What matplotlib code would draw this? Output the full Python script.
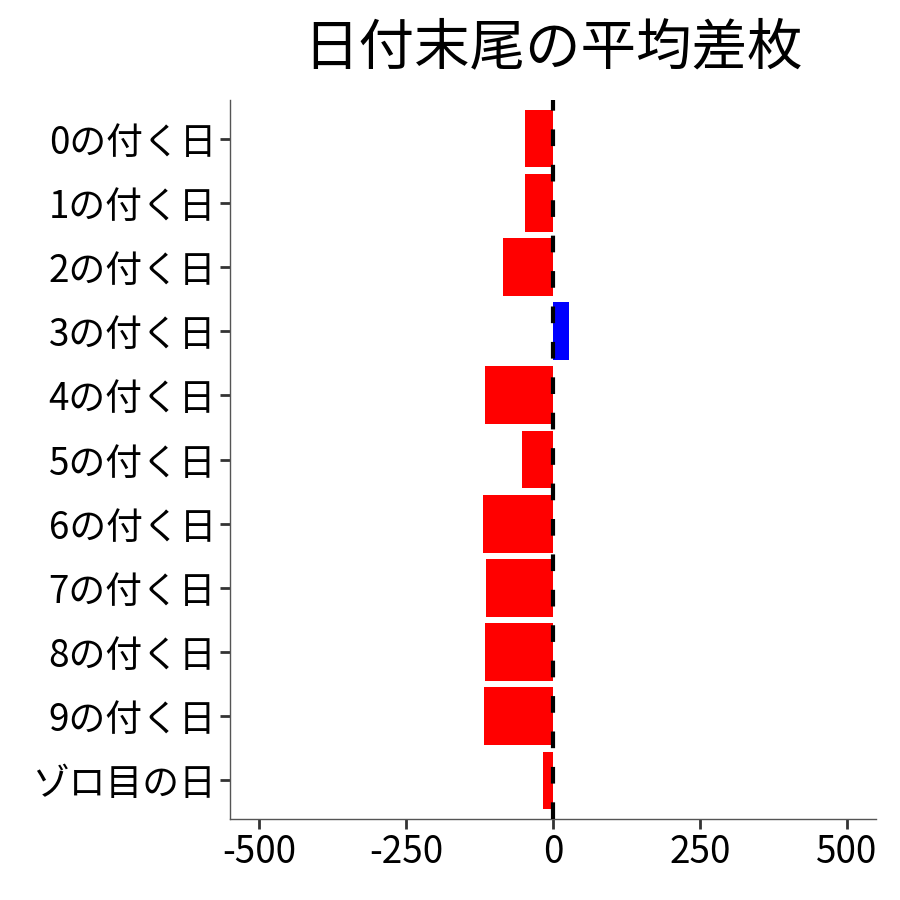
import matplotlib

matplotlib.use("Agg")
import matplotlib.pyplot as plt  # noqa: E402

plt.rcParams["font.family"] = ["Noto Sans CJK JP", "DejaVu Sans"]

# 日付末尾ごとの平均差枚（上から順に表示）
labels = ["0の付く日", "1の付く日", "2の付く日", "3の付く日", "4の付く日",
          "5の付く日", "6の付く日", "7の付く日", "8の付く日", "9の付く日", "ゾロ目の日"]
values = [-48, -48, -85, 28, -116, -52, -119, -114, -116, -117, -17]
xticks = [-500, -250, 0, 250, 500]

colors = ["#0000FF" if v > 0 else "#FF0000" for v in values]
pos = list(range(len(labels)))[::-1]

fig = plt.figure(figsize=(9, 9), dpi=100)
ax = fig.add_axes([230 / 900, 1 - 819 / 900, (876 - 230) / 900, (819 - 100) / 900])

ax.barh(pos, values, height=0.9, color=colors, zorder=2)
ax.axvline(0, color="black", lw=3.0, ls=(0, (4, 4.5)), zorder=3)

ax.set_xlim(-550, 550)
ax.set_ylim(-0.6, len(labels) - 0.4)
ax.set_xticks(xticks)
ax.set_xticklabels([str(t) for t in xticks])
ax.set_yticks(pos)
ax.set_yticklabels(labels)
ax.tick_params(axis="both", labelsize=26.5, colors="#333333", length=7, width=2,
               labelcolor="black", pad=3)

for s in ["top", "right"]:
    ax.spines[s].set_visible(False)
for s in ["left", "bottom"]:
    ax.spines[s].set_color("#555555")
    ax.spines[s].set_linewidth(1.0)

ax.set_title("日付末尾の平均差枚", fontsize=40, pad=26)

fig.savefig("out.png", dpi=100)
